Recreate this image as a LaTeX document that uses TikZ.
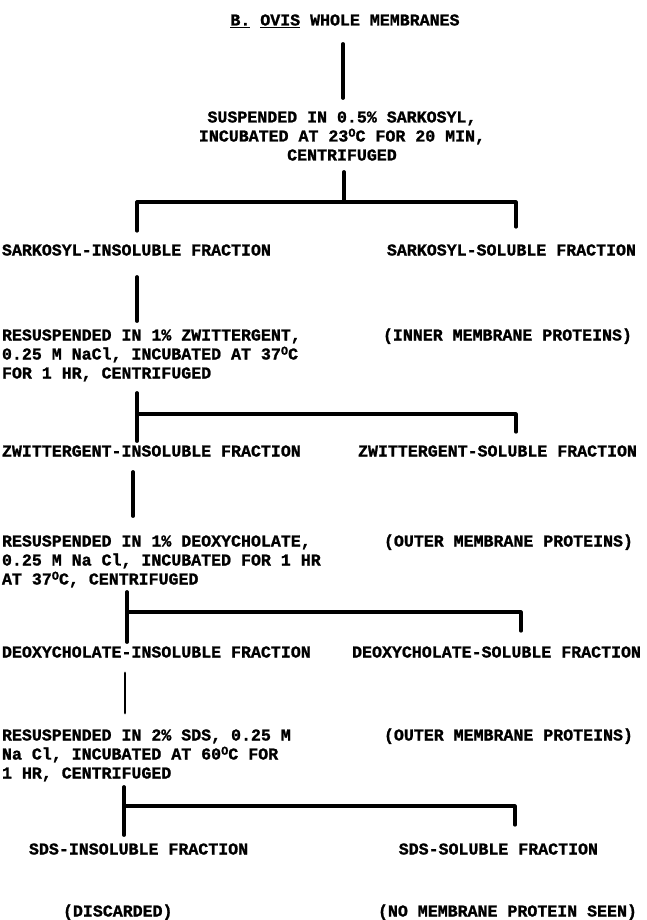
\documentclass[tikz,border=0pt]{standalone}
\usepackage{fontspec}
\setmainfont{Liberation Mono}[BoldFeatures={FakeBold=1.2}]
\newcommand\degO{\raisebox{0.55ex}{\fontsize{12}{12}\selectfont O}}
\begin{document}
\begin{tikzpicture}[x=1pt,y=-1pt,
  every node/.style={inner sep=0pt, outer sep=0pt, font=\fontsize{16.6}{19}\selectfont\bfseries},
  txt/.style={anchor=base west, align=left},
  rtxt/.style={anchor=base east, align=left},
  ctxt/.style={anchor=base, align=center},
  link/.style={line width=3.8pt, line cap=round},
  hlink/.style={line width=3.2pt, line cap=round, line join=round}]
\useasboundingbox (0,0) rectangle (646,920);
\fill[white] (0,0) rectangle (646,920);

% texts (multi-line nodes: base = last line)
\node[ctxt] (title) at (345,25.5) {\underline{B.} \underline{OVIS} WHOLE MEMBRANES};
\node[ctxt] (susp) at (342,160.5) {SUSPENDED IN 0.5\% SARKOSYL,\\INCUBATED AT 23\degO C FOR 20 MIN,\\CENTRIFUGED};
\node[txt] (sarkins) at (2,255.5) {SARKOSYL-INSOLUBLE FRACTION};
\node[rtxt] (sarksol) at (636,255.5) {SARKOSYL-SOLUBLE FRACTION};
\node[txt] (resus1) at (2,378.5) {RESUSPENDED IN 1\% ZWITTERGENT,\\0.25 M NaCl, INCUBATED AT 37\degO C\\FOR 1 HR, CENTRIFUGED};
\node[rtxt] (inner) at (632,340.5) {(INNER MEMBRANE PROTEINS)};
\node[txt] (zwins) at (2,456.5) {ZWITTERGENT-INSOLUBLE FRACTION};
\node[rtxt] (zwsol) at (637,456.5) {ZWITTERGENT-SOLUBLE FRACTION};
\node[txt] (resus2) at (2,584.5) {RESUSPENDED IN 1\% DEOXYCHOLATE,\\0.25 M Na Cl, INCUBATED FOR 1 HR\\AT 37\degO C, CENTRIFUGED};
\node[rtxt] (outer1) at (633,546.5) {(OUTER MEMBRANE PROTEINS)};
\node[txt] (deins) at (2,657.5) {DEOXYCHOLATE-INSOLUBLE FRACTION};
\node[rtxt] (desol) at (641,657.5) {DEOXYCHOLATE-SOLUBLE FRACTION};
\node[txt] (resus3) at (2,778.5) {RESUSPENDED IN 2\% SDS, 0.25 M\\Na Cl, INCUBATED AT 60\degO C FOR\\1 HR, CENTRIFUGED};
\node[rtxt] (outer2) at (633,740.5) {(OUTER MEMBRANE PROTEINS)};
\node[txt] (sdsins) at (29,854.5) {SDS-INSOLUBLE FRACTION};
\node[rtxt] (sdssol) at (598,854.5) {SDS-SOLUBLE FRACTION};
\node[txt] (disc) at (63,916.5) {(DISCARDED)};
\node[rtxt] (nomem) at (637,916.5) {(NO MEMBRANE PROTEIN SEEN)};

% connector points
\coordinate (a1) at (343,44);  \coordinate (a2) at (343,98);
\coordinate (b1) at (344,172); \coordinate (b2) at (344,202);
\coordinate (bl) at (137,202); \coordinate (bl2) at (137,231);
\coordinate (br) at (516,202); \coordinate (br2) at (516,227);
\coordinate (c1) at (137,277); \coordinate (c2) at (137,321);
\coordinate (d1) at (137,393); \coordinate (d2) at (137,441);
\coordinate (dh) at (137,414); \coordinate (dr) at (516,414); \coordinate (dr2) at (516,432);
\coordinate (e1) at (133,472); \coordinate (e2) at (133,516);
\coordinate (f1) at (127,592); \coordinate (f2) at (127,642);
\coordinate (fh) at (127,612); \coordinate (fr) at (521,612); \coordinate (fr2) at (521,631);
\coordinate (g1) at (125,673); \coordinate (g2) at (125,713);
\coordinate (h1) at (124,787); \coordinate (h2) at (124,835);
\coordinate (hh) at (124,806); \coordinate (hr) at (515,806); \coordinate (hr2) at (515,825);

% connectors
\draw[link] (a1) -- (a2);
\draw[link] (b1) -- (b2);
\draw[hlink] (bl2) -- (bl) -- (br) -- (br2);
\draw[link] (c1) -- (c2);
\draw[link] (d1) -- (d2);
\draw[hlink] (dh) -- (dr) -- (dr2);
\draw[link] (e1) -- (e2);
\draw[link] (f1) -- (f2);
\draw[hlink] (fh) -- (fr) -- (fr2);
\draw[link, line width=2.8pt] (g1) -- (g2);
\draw[link] (h1) -- (h2);
\draw[hlink] (hh) -- (hr) -- (hr2);
\end{tikzpicture}
\end{document}
